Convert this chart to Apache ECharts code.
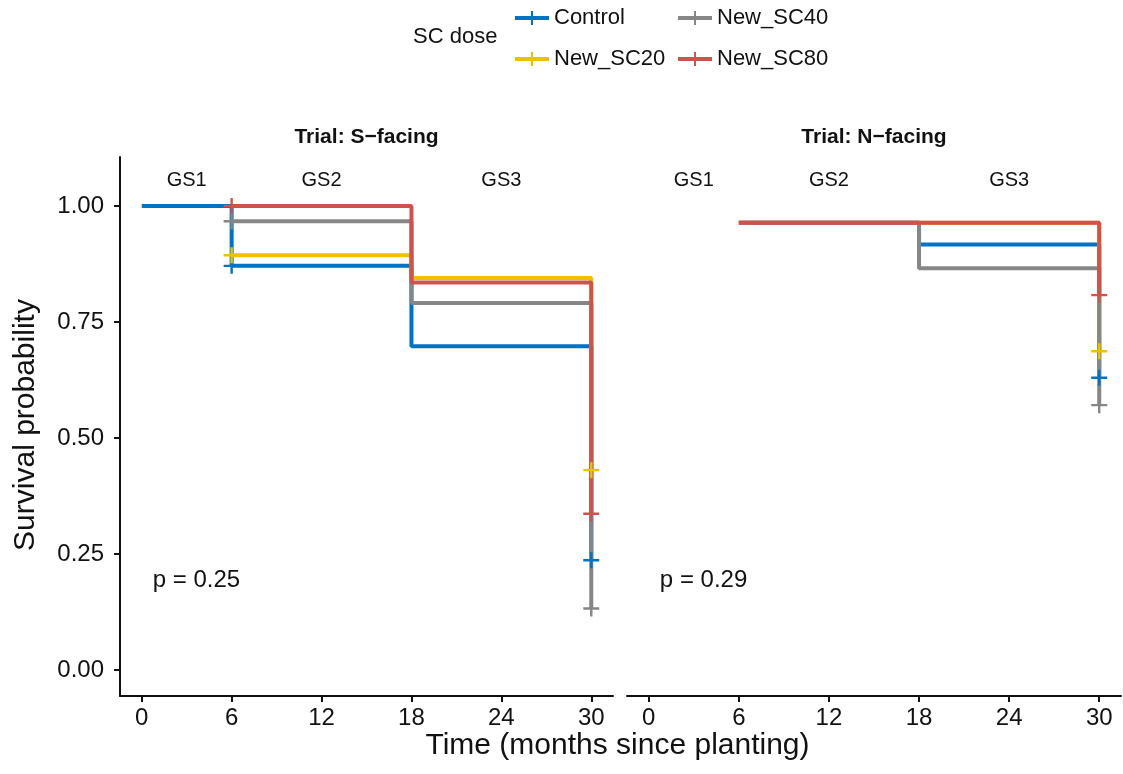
<!DOCTYPE html>
<html>
<head>
<meta charset="utf-8">
<script src="https://cdn.jsdelivr.net/npm/echarts@6/dist/echarts.min.js"></script>
<style>html,body{margin:0;padding:0;background:#fff}#c{width:1123px;height:774px}</style>
</head>
<body>
<div id="c"></div>
<script>
// ---- data ----
const seriesNames = ['Control', 'New_SC20', 'New_SC40', 'New_SC80'];
const panelTitles = ['Trial: S\u2212facing', 'Trial: N\u2212facing'];
const xTicks = [0, 6, 12, 18, 24, 30];
const yTicks = [0, 0.25, 0.5, 0.75, 1];

// S-facing panel (times in months, survival probability)
const sFacingTimes = [[0, 6, 18, 30], [6, 18, 30], [6, 18, 30], [6, 18, 30]];
const sFacingSurv = [[1.0, 0.871, 0.698, 0.237], [0.894, 0.845, 0.431], [0.967, 0.791, 0.133], [1.0, 0.835, 0.337]];
const sFacingCensorTimes = [[6, 30], [6, 30], [6, 30], [6, 30]];

// N-facing panel
const nFacingTimes = [[6, 18, 30], [6, 30], [6, 18, 30], [6, 30]];
const nFacingSurv = [[0.964, 0.917, 0.630], [0.964, 0.687], [0.964, 0.866, 0.571], [0.964, 0.808]];
const nFacingCensorTimes = [[30], [30], [30], [30]];

// annotations
const gsLabels = ['GS1', 'GS2', 'GS3'];
const gsTimes = [3, 12, 24];
const gsLevel = 1.055;
const pLabels = ['p = 0.25', 'p = 0.29'];
const pTime = 3.65;
const pLevel = 0.194;

// ---- style ----
const colors = ['#0073C2', '#EFC000', '#868686', '#CD534C'];
const FONT = 'Liberation Sans, Arial, sans-serif';
const crossPath = 'path://M7,0H9.5V7H16.5V9.5H9.5V16.5H7V9.5H0V7H7Z';
const legendIcon = 'path://M0,5H16V0H18V5H34V9H18V14H16V9H0Z';

function survAt(times, surv, t) {
  let v = surv[0];
  for (let i = 0; i < times.length; i++) if (times[i] <= t) v = surv[i];
  return v;
}

const series = [];
function addPanel(idx, times, surv, cens) {
  seriesNames.forEach((name, i) => {
    series.push({
      name, type: 'line', step: 'end', xAxisIndex: idx, yAxisIndex: idx,
      data: times[i].map((t, j) => [t, surv[i][j]]),
      symbol: 'none', color: colors[i],
      lineStyle: { width: 4, color: colors[i] },
      emphasis: { disabled: true }, z: 2 + i
    });
  });
  seriesNames.forEach((name, i) => {
    series.push({
      name, type: 'scatter', xAxisIndex: idx, yAxisIndex: idx,
      data: cens[i].map(t => [t, survAt(times[i], surv[i], t)]),
      symbol: crossPath, symbolSize: 16, color: colors[i],
      itemStyle: { color: colors[i], opacity: 1 },
      emphasis: { disabled: true }, z: 8 + i
    });
  });
  series.push({
    type: 'scatter', xAxisIndex: idx, yAxisIndex: idx, symbolSize: 0, silent: true,
    itemStyle: { opacity: 1 },
    data: gsTimes.map((t, k) => ({ value: [t, gsLevel], name: gsLabels[k] })),
    label: { show: true, position: 'inside', formatter: p => p.name, fontSize: 20, color: '#111', opacity: 1, fontFamily: FONT },
    z: 20
  });
  series.push({
    type: 'scatter', xAxisIndex: idx, yAxisIndex: idx, symbolSize: 0, silent: true,
    itemStyle: { opacity: 1 },
    data: [{ value: [pTime, pLevel], name: pLabels[idx] }],
    label: { show: true, position: 'inside', formatter: p => p.name, fontSize: 24, color: '#111', opacity: 1, fontFamily: FONT },
    z: 20
  });
}
addPanel(0, sFacingTimes, sFacingSurv, sFacingCensorTimes);
addPanel(1, nFacingTimes, nFacingSurv, nFacingCensorTimes);

const grids = [
  { left: 120, top: 157, width: 493, height: 539 },
  { left: 627, top: 157, width: 494, height: 539 }
];

function xAxis(i) {
  return {
    type: 'value', gridIndex: i, min: -1.45, max: 31.45,
    splitLine: { show: false },
    axisLine: { show: true, onZero: false, lineStyle: { color: '#111', width: 2 } },
    axisTick: { show: true, length: 6, lineStyle: { color: '#111', width: 2 }, customValues: xTicks },
    axisLabel: { customValues: xTicks, fontSize: 24, color: '#111', fontFamily: FONT, margin: 10 }
  };
}
function yAxis(i) {
  return {
    type: 'value', gridIndex: i, min: -0.0555, max: 1.1055, show: i === 0,
    splitLine: { show: false },
    axisLine: { show: true, onZero: false, lineStyle: { color: '#111', width: 2 } },
    axisTick: { show: true, length: 6, lineStyle: { color: '#111', width: 2 }, customValues: yTicks },
    axisLabel: { customValues: yTicks, fontSize: 24, color: '#111', fontFamily: FONT, margin: 16, formatter: v => v.toFixed(2) }
  };
}

const legendCommon = {
  orient: 'vertical', top: 1, itemWidth: 34, itemHeight: 14, itemGap: 17,
  textStyle: { fontSize: 22, color: '#111', fontFamily: FONT, lineHeight: 24 },
  selectedMode: false
};

const chart = echarts.init(document.getElementById('c'), null, { renderer: 'canvas' });
chart.setOption({
  animation: false,
  backgroundColor: '#fff',
  grid: grids,
  xAxis: [xAxis(0), xAxis(1)],
  yAxis: [yAxis(0), yAxis(1)],
  legend: [
    Object.assign({}, legendCommon, { left: 510, data: [{ name: seriesNames[0], icon: legendIcon }, { name: seriesNames[1], icon: legendIcon }] }),
    Object.assign({}, legendCommon, { left: 673, data: [{ name: seriesNames[2], icon: legendIcon }, { name: seriesNames[3], icon: legendIcon }] })
  ],
  graphic: [
    { type: 'text', x: 366.5, y: 137, style: { text: panelTitles[0], font: 'bold 21px ' + FONT, fill: '#111', textAlign: 'center', textVerticalAlign: 'middle' } },
    { type: 'text', x: 874, y: 137, style: { text: panelTitles[1], font: 'bold 21px ' + FONT, fill: '#111', textAlign: 'center', textVerticalAlign: 'middle' } },
    { type: 'text', x: 413, y: 37, style: { text: 'SC dose', font: '22px ' + FONT, fill: '#111', textAlign: 'left', textVerticalAlign: 'middle' } },
    { type: 'text', x: 617.5, y: 746, style: { text: 'Time (months since planting)', font: '30px ' + FONT, fill: '#111', textAlign: 'center', textVerticalAlign: 'middle' } },
    { type: 'text', x: 26, y: 425, rotation: Math.PI / 2, style: { text: 'Survival probability', font: '30px ' + FONT, fill: '#111', textAlign: 'center', textVerticalAlign: 'middle' } }
  ],
  series
});
</script>
</body>
</html>
